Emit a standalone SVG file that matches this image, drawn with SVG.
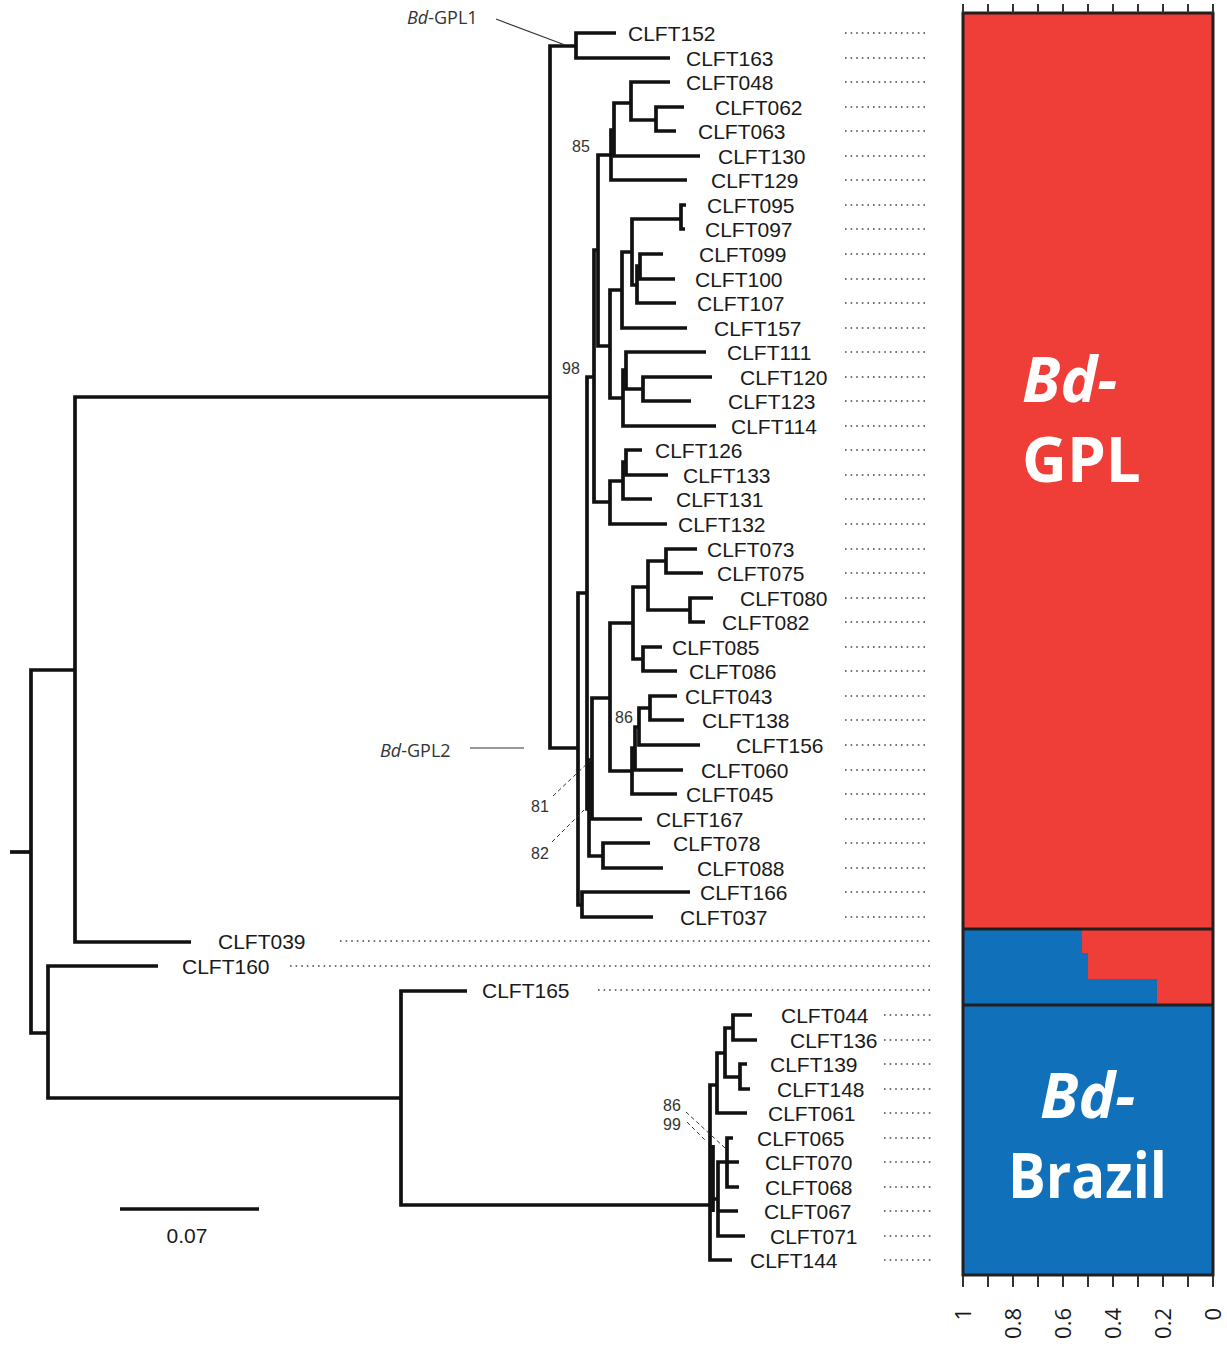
<svg xmlns="http://www.w3.org/2000/svg" width="1227" height="1346" viewBox="0 0 1227 1346">
<style>
.br{fill:none;stroke:#111;stroke-width:3.7;stroke-linejoin:miter;stroke-linecap:butt}
.lf{font-family:"Liberation Sans","Open Sans",sans-serif;font-size:21px;fill:#1a1a1a}
.ld{stroke:#444;stroke-width:1.4;stroke-dasharray:1.6 4;fill:none}
.bs{font-family:"Liberation Sans","Open Sans",sans-serif;font-size:16px;fill:#333;text-anchor:middle}
.pt{stroke:#333;stroke-width:1;stroke-dasharray:4 3;fill:none}
.cl{font-family:"Open Sans","Liberation Sans",sans-serif;font-size:18px;fill:#333}
.big{font-family:"Open Sans","Liberation Sans",sans-serif;font-size:62px;font-weight:bold;fill:#fff}
.ax{font-family:"Open Sans","Liberation Sans",sans-serif;font-size:22px;fill:#1a1a1a;text-anchor:end}
.tk{stroke:#333;stroke-width:2;fill:none}
</style>
<rect x="0" y="0" width="1227" height="1346" fill="#fff"/>

<g id="connectors">
<path class="br" d="M10,852 H31"/>
<path class="br" d="M75,670 H31 V1033 H48"/>
<path class="br" d="M550,397 H75 V942 H191"/>
<path class="br" d="M158,966 H48 V1098 H401"/>
<path class="br" d="M467,991 H401 V1205 H710"/>
<path class="br" d="M576,46 H550 V748 H578"/>
<path class="br" d="M616,33 H576 V58 H670"/>
<path class="br" d="M587,593 H578 V905 H582"/>
<path class="br" d="M690,892 H582 V917 H653"/>
<path class="br" d="M594,377 H587 V809 H589"/>
<path class="br" d="M592,760 H589 V856 H603"/>
<path class="br" d="M610,698 H592 V819 H642"/>
<path class="br" d="M650,843 H603 V868 H663"/>
<path class="br" d="M598,250 H594 V502 H610"/>
<path class="br" d="M611,155 H598 V346 H610"/>
<path class="br" d="M614,130 H611 V180 H687"/>
<path class="br" d="M631,103 H614 V156 H700"/>
<path class="br" d="M670,82 H631 V120 H656"/>
<path class="br" d="M684,107 H656 V131 H676"/>
<path class="br" d="M622,290 H610 V398 H623"/>
<path class="br" d="M632,252 H622 V328 H687"/>
<path class="br" d="M681,219 H632 V285 H637"/>
<path class="br" d="M686,205 H681 V229 H685"/>
<path class="br" d="M640,266 H637 V303 H676"/>
<path class="br" d="M663,254 H640 V279 H675"/>
<path class="br" d="M626,370 H623 V426 H716"/>
<path class="br" d="M706,352 H626 V389 H643"/>
<path class="br" d="M712,377 H643 V401 H691"/>
<path class="br" d="M623,481 H610 V524 H667"/>
<path class="br" d="M626,462 H623 V499 H652"/>
<path class="br" d="M642,450 H626 V475 H668"/>
<path class="br" d="M633,623 H610 V771 H632"/>
<path class="br" d="M648,587 H633 V659 H643"/>
<path class="br" d="M666,561 H648 V610 H690"/>
<path class="br" d="M697,549 H666 V573 H703"/>
<path class="br" d="M713,598 H690 V622 H705"/>
<path class="br" d="M662,647 H643 V671 H677"/>
<path class="br" d="M635,748 H632 V794 H677"/>
<path class="br" d="M639,727 H635 V770 H683"/>
<path class="br" d="M650,708 H639 V745 H700"/>
<path class="br" d="M677,696 H650 V720 H684"/>
<path class="br" d="M717,1085 H710 V1260 H732"/>
<path class="br" d="M725,1053 H717 V1113 H747"/>
<path class="br" d="M733,1028 H725 V1077 H740"/>
<path class="br" d="M752,1015 H733 V1040 H757"/>
<path class="br" d="M747,1064 H740 V1089 H750"/>
<path class="br" d="M713,1145 V1212 M713,1199 H718"/>
<path class="br" d="M727,1162 H718 V1236 H745 M718,1211 H738"/>
<path class="br" d="M733,1138 H727 V1187 H739 M727,1162 H739"/>
<line class="pt" x1="553" y1="796" x2="593" y2="758"/>
<line class="pt" x1="552" y1="842" x2="584" y2="810"/>
<line class="pt" x1="686" y1="1112" x2="725" y2="1148"/>
<line class="pt" x1="687" y1="1122" x2="705" y2="1140"/>
<line stroke="#333" stroke-width="1.2" x1="496" y1="19" x2="565" y2="45"/>
<line stroke="#333" stroke-width="1.2" x1="470" y1="748" x2="524" y2="748"/>
</g>

<g id="support-values">
<text class="bs" x="581" y="152">85</text>
<text class="bs" x="571" y="374">98</text>
<text class="bs" x="624" y="723">86</text>
<text class="bs" x="540" y="812">81</text>
<text class="bs" x="540" y="859">82</text>
<text class="bs" x="672" y="1111">86</text>
<text class="bs" x="672" y="1130">99</text>
</g>

<g id="clade-labels">
<text class="cl" x="407" y="24"><tspan font-style="italic">Bd</tspan>-GPL1</text>
<text class="cl" x="380" y="757"><tspan font-style="italic">Bd</tspan>-GPL2</text>
</g>

<g id="leaves">
<g id="leaf-CLFT152"><text class="lf" x="628" y="40.5">CLFT152</text><line class="ld" x1="845" y1="33" x2="928" y2="33"/></g>
<g id="leaf-CLFT163"><text class="lf" x="686" y="65.5">CLFT163</text><line class="ld" x1="845" y1="58" x2="928" y2="58"/></g>
<g id="leaf-CLFT048"><text class="lf" x="686" y="89.5">CLFT048</text><line class="ld" x1="845" y1="82" x2="928" y2="82"/></g>
<g id="leaf-CLFT062"><text class="lf" x="715" y="114.5">CLFT062</text><line class="ld" x1="845" y1="107" x2="928" y2="107"/></g>
<g id="leaf-CLFT063"><text class="lf" x="698" y="138.5">CLFT063</text><line class="ld" x1="845" y1="131" x2="928" y2="131"/></g>
<g id="leaf-CLFT130"><text class="lf" x="718" y="163.5">CLFT130</text><line class="ld" x1="845" y1="156" x2="928" y2="156"/></g>
<g id="leaf-CLFT129"><text class="lf" x="711" y="187.5">CLFT129</text><line class="ld" x1="845" y1="180" x2="928" y2="180"/></g>
<g id="leaf-CLFT095"><text class="lf" x="707" y="212.5">CLFT095</text><line class="ld" x1="845" y1="205" x2="928" y2="205"/></g>
<g id="leaf-CLFT097"><text class="lf" x="705" y="236.5">CLFT097</text><line class="ld" x1="845" y1="229" x2="928" y2="229"/></g>
<g id="leaf-CLFT099"><text class="lf" x="699" y="261.5">CLFT099</text><line class="ld" x1="845" y1="254" x2="928" y2="254"/></g>
<g id="leaf-CLFT100"><text class="lf" x="695" y="286.5">CLFT100</text><line class="ld" x1="845" y1="279" x2="928" y2="279"/></g>
<g id="leaf-CLFT107"><text class="lf" x="697" y="310.5">CLFT107</text><line class="ld" x1="845" y1="303" x2="928" y2="303"/></g>
<g id="leaf-CLFT157"><text class="lf" x="714" y="335.5">CLFT157</text><line class="ld" x1="845" y1="328" x2="928" y2="328"/></g>
<g id="leaf-CLFT111"><text class="lf" x="727" y="359.5">CLFT111</text><line class="ld" x1="845" y1="352" x2="928" y2="352"/></g>
<g id="leaf-CLFT120"><text class="lf" x="740" y="384.5">CLFT120</text><line class="ld" x1="845" y1="377" x2="928" y2="377"/></g>
<g id="leaf-CLFT123"><text class="lf" x="728" y="408.5">CLFT123</text><line class="ld" x1="845" y1="401" x2="928" y2="401"/></g>
<g id="leaf-CLFT114"><text class="lf" x="731" y="433.5">CLFT114</text><line class="ld" x1="845" y1="426" x2="928" y2="426"/></g>
<g id="leaf-CLFT126"><text class="lf" x="655" y="457.5">CLFT126</text><line class="ld" x1="845" y1="450" x2="928" y2="450"/></g>
<g id="leaf-CLFT133"><text class="lf" x="683" y="482.5">CLFT133</text><line class="ld" x1="845" y1="475" x2="928" y2="475"/></g>
<g id="leaf-CLFT131"><text class="lf" x="676" y="506.5">CLFT131</text><line class="ld" x1="845" y1="499" x2="928" y2="499"/></g>
<g id="leaf-CLFT132"><text class="lf" x="678" y="531.5">CLFT132</text><line class="ld" x1="845" y1="524" x2="928" y2="524"/></g>
<g id="leaf-CLFT073"><text class="lf" x="707" y="556.5">CLFT073</text><line class="ld" x1="845" y1="549" x2="928" y2="549"/></g>
<g id="leaf-CLFT075"><text class="lf" x="717" y="580.5">CLFT075</text><line class="ld" x1="845" y1="573" x2="928" y2="573"/></g>
<g id="leaf-CLFT080"><text class="lf" x="740" y="605.5">CLFT080</text><line class="ld" x1="845" y1="598" x2="928" y2="598"/></g>
<g id="leaf-CLFT082"><text class="lf" x="722" y="629.5">CLFT082</text><line class="ld" x1="845" y1="622" x2="928" y2="622"/></g>
<g id="leaf-CLFT085"><text class="lf" x="672" y="654.5">CLFT085</text><line class="ld" x1="845" y1="647" x2="928" y2="647"/></g>
<g id="leaf-CLFT086"><text class="lf" x="689" y="678.5">CLFT086</text><line class="ld" x1="845" y1="671" x2="928" y2="671"/></g>
<g id="leaf-CLFT043"><text class="lf" x="685" y="703.5">CLFT043</text><line class="ld" x1="845" y1="696" x2="928" y2="696"/></g>
<g id="leaf-CLFT138"><text class="lf" x="702" y="727.5">CLFT138</text><line class="ld" x1="845" y1="720" x2="928" y2="720"/></g>
<g id="leaf-CLFT156"><text class="lf" x="736" y="752.5">CLFT156</text><line class="ld" x1="845" y1="745" x2="928" y2="745"/></g>
<g id="leaf-CLFT060"><text class="lf" x="701" y="777.5">CLFT060</text><line class="ld" x1="845" y1="770" x2="928" y2="770"/></g>
<g id="leaf-CLFT045"><text class="lf" x="686" y="801.5">CLFT045</text><line class="ld" x1="845" y1="794" x2="928" y2="794"/></g>
<g id="leaf-CLFT167"><text class="lf" x="656" y="826.5">CLFT167</text><line class="ld" x1="845" y1="819" x2="928" y2="819"/></g>
<g id="leaf-CLFT078"><text class="lf" x="673" y="850.5">CLFT078</text><line class="ld" x1="845" y1="843" x2="928" y2="843"/></g>
<g id="leaf-CLFT088"><text class="lf" x="697" y="875.5">CLFT088</text><line class="ld" x1="845" y1="868" x2="928" y2="868"/></g>
<g id="leaf-CLFT166"><text class="lf" x="700" y="899.5">CLFT166</text><line class="ld" x1="845" y1="892" x2="928" y2="892"/></g>
<g id="leaf-CLFT037"><text class="lf" x="680" y="924.5">CLFT037</text><line class="ld" x1="845" y1="917" x2="928" y2="917"/></g>
<g id="leaf-CLFT039"><text class="lf" x="218" y="948.5">CLFT039</text><line class="ld" x1="340" y1="941" x2="932" y2="941"/></g>
<g id="leaf-CLFT160"><text class="lf" x="182" y="973.5">CLFT160</text><line class="ld" x1="290" y1="966" x2="932" y2="966"/></g>
<g id="leaf-CLFT165"><text class="lf" x="482" y="997.5">CLFT165</text><line class="ld" x1="598" y1="990" x2="932" y2="990"/></g>
<g id="leaf-CLFT044"><text class="lf" x="781" y="1022.5">CLFT044</text><line class="ld" x1="884" y1="1015" x2="932" y2="1015"/></g>
<g id="leaf-CLFT136"><text class="lf" x="790" y="1047.5">CLFT136</text><line class="ld" x1="884" y1="1040" x2="932" y2="1040"/></g>
<g id="leaf-CLFT139"><text class="lf" x="770" y="1071.5">CLFT139</text><line class="ld" x1="884" y1="1064" x2="932" y2="1064"/></g>
<g id="leaf-CLFT148"><text class="lf" x="777" y="1096.5">CLFT148</text><line class="ld" x1="884" y1="1089" x2="932" y2="1089"/></g>
<g id="leaf-CLFT061"><text class="lf" x="768" y="1120.5">CLFT061</text><line class="ld" x1="884" y1="1113" x2="932" y2="1113"/></g>
<g id="leaf-CLFT065"><text class="lf" x="757" y="1145.5">CLFT065</text><line class="ld" x1="884" y1="1138" x2="932" y2="1138"/></g>
<g id="leaf-CLFT070"><text class="lf" x="765" y="1169.5">CLFT070</text><line class="ld" x1="884" y1="1162" x2="932" y2="1162"/></g>
<g id="leaf-CLFT068"><text class="lf" x="765" y="1194.5">CLFT068</text><line class="ld" x1="884" y1="1187" x2="932" y2="1187"/></g>
<g id="leaf-CLFT067"><text class="lf" x="764" y="1218.5">CLFT067</text><line class="ld" x1="884" y1="1211" x2="932" y2="1211"/></g>
<g id="leaf-CLFT071"><text class="lf" x="770" y="1243.5">CLFT071</text><line class="ld" x1="884" y1="1236" x2="932" y2="1236"/></g>
<g id="leaf-CLFT144"><text class="lf" x="750" y="1267.5">CLFT144</text><line class="ld" x1="884" y1="1260" x2="932" y2="1260"/></g>
</g>

<g id="scale-bar">
<line x1="120" y1="1209" x2="259" y2="1209" stroke="#111" stroke-width="3.7"/>
<text class="lf" x="187" y="1243" text-anchor="middle">0.07</text>
</g>

<g id="structure-bar">
<rect x="963" y="13" width="250" height="916" fill="#EF3E37"/>
<rect x="963" y="929" width="250" height="346" fill="#1071BA"/>
<rect x="1082" y="929" width="131" height="24" fill="#EF3E37"/>
<rect x="1088" y="953" width="125" height="26" fill="#EF3E37"/>
<rect x="1157" y="979" width="56" height="26" fill="#EF3E37"/>
<line x1="963" y1="929" x2="1213" y2="929" stroke="#231F20" stroke-width="3"/>
<line x1="963" y1="1005" x2="1213" y2="1005" stroke="#231F20" stroke-width="3"/>
<rect x="963" y="13" width="250" height="1262" fill="none" stroke="#231F20" stroke-width="3"/>
<text class="big" x="1022" y="402" font-style="italic">Bd-</text>
<text class="big" x="1022" y="482">GPL</text>
<text class="big" x="1040" y="1118" font-style="italic">Bd-</text>
<text class="big" x="1008" y="1198" textLength="159" lengthAdjust="spacingAndGlyphs">Brazil</text>
</g>

<g id="axis">
<path class="tk" d="M963,4V13 M988,4V13 M1013,4V13 M1038,4V13 M1063,4V13 M1088,4V13 M1113,4V13 M1138,4V13 M1163,4V13 M1188,4V13 M1213,4V13"/>
<path class="tk" d="M963,1276V1287 M988,1276V1287 M1013,1276V1287 M1038,1276V1287 M1063,1276V1287 M1088,1276V1287 M1113,1276V1287 M1138,1276V1287 M1163,1276V1287 M1188,1276V1287 M1213,1276V1287"/>
<text class="ax" transform="translate(971,1308) rotate(-90)">1</text>
<text class="ax" transform="translate(1021,1308) rotate(-90)">0.8</text>
<text class="ax" transform="translate(1071,1308) rotate(-90)">0.6</text>
<text class="ax" transform="translate(1121,1308) rotate(-90)">0.4</text>
<text class="ax" transform="translate(1171,1308) rotate(-90)">0.2</text>
<text class="ax" transform="translate(1221,1308) rotate(-90)">0</text>
</g>
</svg>
